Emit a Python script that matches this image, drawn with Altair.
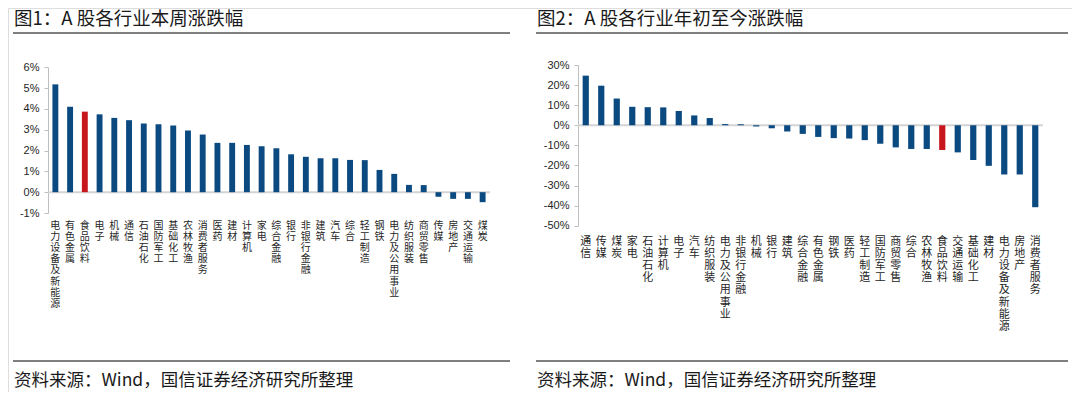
import altair as alt
import pandas as pd

# ---------------- data ----------------
left_cats = ["电力设备及新能源", "有色金属", "食品饮料", "电子", "机械", "通信", "石油石化",
             "国防军工", "基础化工", "农林牧渔", "消费者服务", "医药", "建材", "计算机", "家电",
             "综合金融", "银行", "非银行金融", "建筑", "汽车", "综合", "轻工制造", "钢铁",
             "电力及公用事业", "纺织服装", "商贸零售", "传媒", "房地产", "交通运输", "煤炭"]
left_vals = [5.18, 4.10, 3.87, 3.74, 3.57, 3.46, 3.30, 3.26, 3.20, 2.96, 2.77, 2.37, 2.37,
             2.27, 2.21, 2.11, 1.82, 1.70, 1.63, 1.63, 1.55, 1.54, 1.07, 0.88, 0.35, 0.34,
             -0.22, -0.32, -0.32, -0.48]

right_cats = ["通信", "传媒", "煤炭", "家电", "石油石化", "计算机", "电子", "汽车", "纺织服装",
              "电力及公用事业", "非银行金融", "机械", "银行", "建筑", "综合金融", "有色金属",
              "钢铁", "医药", "轻工制造", "国防军工", "商贸零售", "综合", "农林牧渔", "食品饮料",
              "交通运输", "基础化工", "建材", "电力设备及新能源", "房地产", "消费者服务"]
right_vals = [24.7, 19.7, 13.3, 9.2, 9.0, 8.9, 7.1, 4.9, 3.6, 0.6, 0.5, -0.6, -1.5, -3.1,
              -4.3, -5.8, -6.4, -6.6, -7.4, -9.2, -11.0, -11.8, -11.8, -12.3, -13.5, -17.3,
              -20.2, -24.5, -24.5, -40.8]

left_ticks = [-1, 0, 1, 2, 3, 4, 5, 6]
right_ticks = [-50, -40, -30, -20, -10, 0, 10, 20, 30]
highlight = "食品饮料"

title_left = "图1：A 股各行业本周涨跌幅"
title_right = "图2：A 股各行业年初至今涨跌幅"
source_text = "资料来源：Wind，国信证券经济研究所整理"

# ---------------- style ----------------
W, H = 1064, 384
BLUE = "#0a4a80"
RED = "#c8161d"
CJK = "Noto Sans CJK SC"
LAT = "Liberation Sans"


def panel(cats, vals, xr, ydom, yr, ticks, lab_y, line_h, fs):
    df = pd.DataFrame({"cat": cats, "val": vals})
    xsc = alt.Scale(domain=cats, range=xr, paddingInner=0.6, paddingOuter=0.3)
    ysc = alt.Scale(domain=ydom, range=yr, nice=False, zero=False)
    xaxis = alt.Axis(orient="bottom", offset=lab_y - H, domain=False, ticks=False, tickSize=0,
                     labelPadding=0, labelAngle=0, labelAlign="center", labelBaseline="top",
                     labelExpr="split(datum.value, '')", labelLineHeight=line_h,
                     labelFont=CJK, labelFontSize=fs, labelColor="#262626",
                     labelOverlap=False, labelBound=False, labelFlush=False, labelLimit=0,
                     title=None, grid=False)
    yaxis = alt.Axis(orient="left", offset=-xr[0], values=ticks, labelExpr="datum.value + '%'",
                     domainColor="#bfbfbf", tickColor="#bfbfbf", tickSize=4, labelPadding=5,
                     labelFont=LAT, labelFontSize=11, labelColor="#262626",
                     title=None, grid=False)
    zero = alt.Chart(pd.DataFrame({"val": [0]})).mark_rule(
        color="#d4d4d4", strokeWidth=2
    ).encode(
        y=alt.Y("val:Q", scale=ysc, axis=yaxis),
        x=alt.value(xr[0]), x2=alt.value(xr[1]),
    )
    bars = alt.Chart(df).mark_bar().encode(
        x=alt.X("cat:N", sort=cats, scale=xsc, axis=xaxis),
        y=alt.Y("val:Q", scale=ysc, axis=yaxis),
        color=alt.condition(f"datum.cat == '{highlight}'", alt.value(RED), alt.value(BLUE)),
    )
    return alt.layer(zero, bars)


left = panel(left_cats, left_vals, [40, 482], [-1, 6], [205, 59.3], left_ticks, 212, 11.2, 10)
right = panel(right_cats, right_vals, [570, 1035], [-50, 30], [217.7, 57], right_ticks, 227, 12.2, 11)

d = alt.Chart(pd.DataFrame({"k": [0]}))


def txt(s, x, y, size):
    return d.mark_text(text=s, align="left", baseline="middle", font=CJK, fontSize=size,
                       color="#1a1a1a").encode(x=alt.value(x), y=alt.value(y))


def hline(x1, x2, y):
    return d.mark_rule(color="#7f7f7f", strokeWidth=2).encode(
        x=alt.value(x1), x2=alt.value(x2), y=alt.value(y))


deco = [
    txt(title_left, 6, 11, 18.5), txt(title_right, 529, 11, 18.5),
    hline(5, 502, 25), hline(528, 1060, 25),
    hline(5, 502, 353), hline(528, 1060, 353),
    txt(source_text, 6, 373, 17.5), txt(source_text, 529, 373, 17.5),
]

chart = alt.layer(left, right, *deco).resolve_scale(
    x="independent", y="independent"
).properties(
    width=W, height=H, autosize=alt.AutoSizeParams(type="none"), padding=0
).configure_view(stroke=None).configure(background="white")

chart.save("out.html", embed_options={"renderer": "svg", "actions": False})
